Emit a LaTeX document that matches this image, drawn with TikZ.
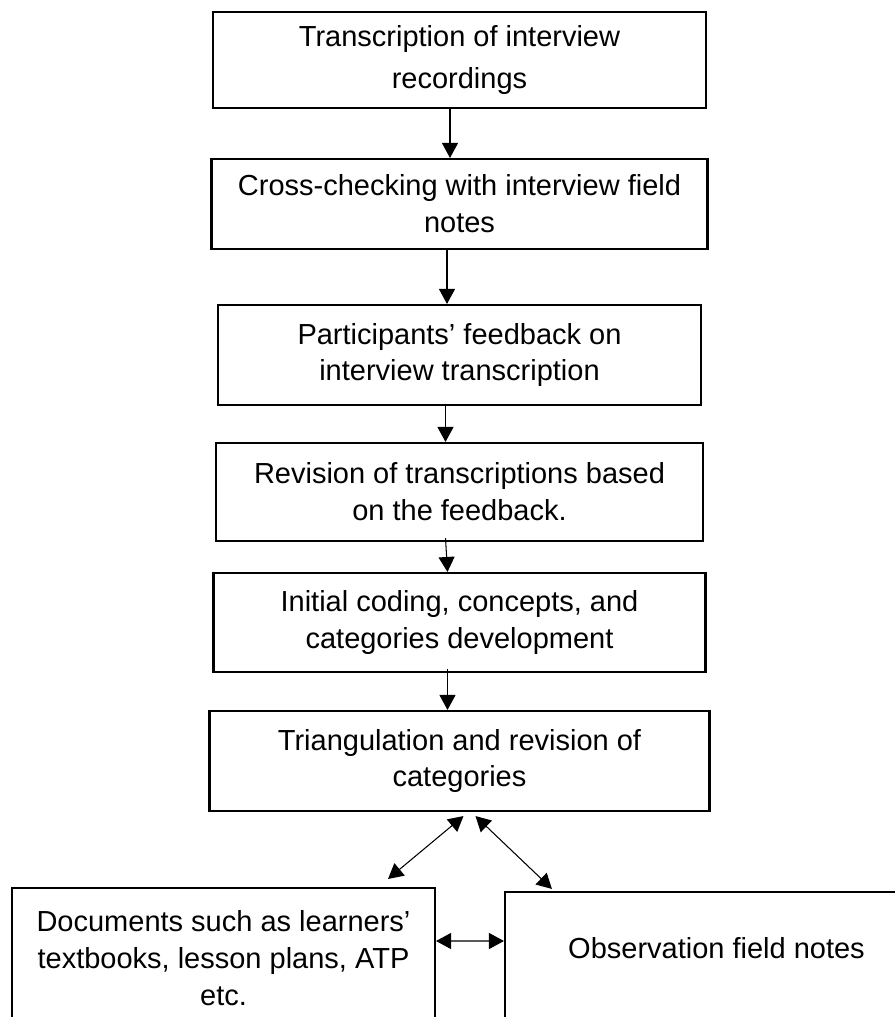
\documentclass[tikz,border=0pt]{standalone}
\usepackage{fontspec}
\setmainfont{Liberation Sans}
\usepackage{tikz}
\usetikzlibrary{positioning}
\usetikzlibrary{arrows.meta}

\begin{document}
    \begin{tikzpicture}[-> , >= {Triangle[width=0.32cm, length=0.3cm]}, line width =0.6 pt,
    node distance=2.8 cm,
    box/.style={rectangle, draw, line width=1.2pt, align=center, font=\fontsize{16.5}{21}\selectfont}]
        \useasboundingbox (0,0) rectangle (17.9,-20.34);
        \clip (0,0) rectangle (17.9,-20.34);

        \node [box, minimum width=9.86cm, minimum height=1.92cm] at (9.19,-1.2) (trans) {Transcription of interview\\[3pt] recordings};
        \node [box, minimum width=9.92cm, minimum height=1.8cm, below of=trans, node distance=2.88cm] (cross) {Cross-checking with interview field\\ notes};
        \node [box, minimum width=9.66cm, minimum height=2cm, below of=cross, node distance=3.02cm] (feed) {Participants’ feedback on\\ interview transcription};
        \node [box, minimum width=9.74cm, minimum height=1.96cm, below of=feed, node distance=2.74cm] (rev) {Revision of transcriptions based\\ on the feedback.};
        \node [box, minimum width=9.84cm, minimum height=1.98cm, below of=rev, node distance=2.61cm] (code) {Initial coding, concepts, and\\ categories development};
        \node [box, minimum width=10cm, minimum height=2cm, below of=code, node distance=2.77cm] (tri) {Triangulation and revision of\\ categories};

        \path ([xshift=-0.19cm]trans.south) edge ([xshift=-0.19cm]cross.north);
        \path ([xshift=-0.25cm]cross.south) edge ([xshift=-0.25cm]feed.north);
        \path ([xshift=-0.28cm]feed.south) edge ([xshift=-0.28cm]rev.north);
        \path ([xshift=-0.28cm, yshift=0.08cm]rev.south) edge ([xshift=-0.24cm]code.north);
        \path ([xshift=-0.24cm, yshift=0.08cm]code.south) edge ([xshift=-0.24cm]tri.north);

        \node [box, minimum width=8.46cm, minimum height=2.8cm, below of=tri, node distance=3.94cm, xshift=-4.72cm] (docs) {Documents such as learners’\\ textbooks, lesson plans, ATP\\ etc.};
        \node [box, minimum width=8.46cm, minimum height=2.8cm, text depth=16pt, below of=tri, node distance=4.02cm, xshift=5.14cm] (obs) {Observation field notes};

        \path ([xshift=0.08cm, yshift=-0.08cm]tri.south) edge[<->] ([xshift=-0.96cm, yshift=0.16cm]docs.north east);
        \path ([xshift=0.32cm, yshift=-0.08cm]tri.south) edge[<->] ([xshift=0.96cm, yshift=0.04cm]obs.north west);
        \path ([yshift=0.34cm]docs.east) edge[<->] ([yshift=0.42cm]obs.west);
    \end{tikzpicture}
\end{document}
